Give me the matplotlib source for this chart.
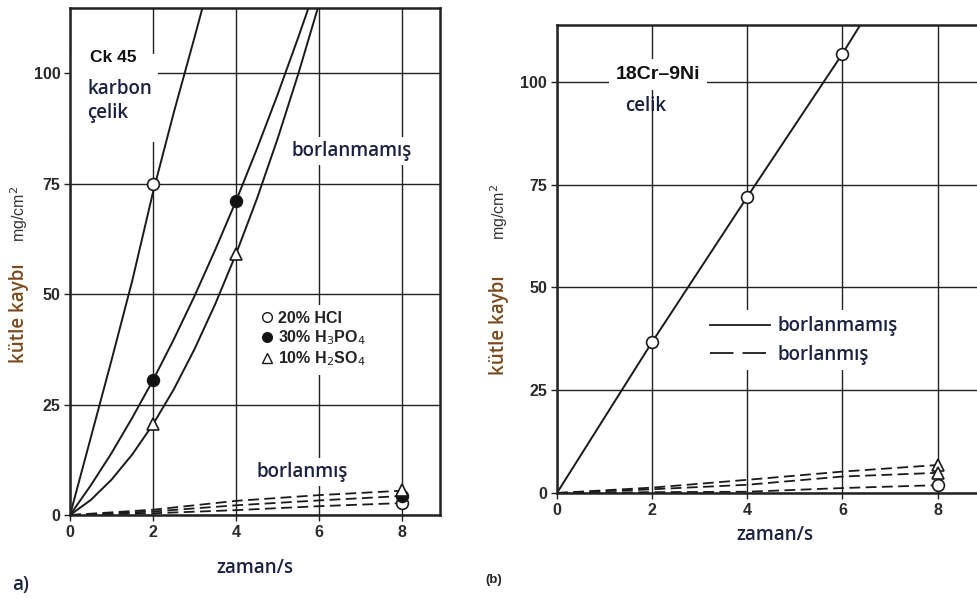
import matplotlib.pyplot as plt
from matplotlib.lines import Line2D
from matplotlib.patches import Rectangle

# ---- data (a) Ck 45 karbon celik ----
t_hcl = [0, 0.5, 1, 1.5, 2, 2.5, 3, 3.2, 3.4]
hcl = [0, 17.5, 35, 53, 73, 91, 108, 115, 122]
t_h3po4 = [0, 0.5, 1, 1.5, 2, 2.5, 3, 3.5, 4, 4.5, 5, 5.5, 5.76, 6.0]
h3po4 = [0, 6.7, 14, 22, 30.5, 39.7, 49.5, 60, 71, 82.7, 95, 108, 115, 122]
t_h2so4 = [0, 0.5, 1, 1.5, 2, 2.5, 3, 3.5, 4, 4.5, 5, 5.5, 6, 6.2]
h2so4 = [0, 3.4, 8, 13.7, 20.5, 28.4, 37.5, 47.7, 59, 71.4, 85, 99.7, 115.5, 122]

pts_hcl_t, pts_hcl = [2, 8], [75, 2.7]
pts_h3po4_t, pts_h3po4 = [2, 4, 8], [30.5, 71, 4.3]
pts_h2so4_t, pts_h2so4 = [2, 4, 8], [20.5, 59, 5.6]

t_b = [0, 2, 4, 6, 8]
bor_a = [[0, 1.2, 3.2, 4.5, 5.5],
         [0, 0.8, 2.2, 3.3, 4.3],
         [0, 0.4, 1.1, 2.0, 2.7]]

# ---- data (b) 18Cr-9Ni celik ----
t_ni = [0, 2, 4, 6, 6.6]
ni = [0, 36.7, 72, 106.8, 118]
pts_ni_t, pts_ni = [2, 4, 6], [36.7, 72, 106.8]
bor_b = [[0, 1.3, 3.2, 5.2, 6.8],
         [0, 0.9, 2.0, 4.0, 4.9],
         [0, 0.2, 0.3, 1.2, 1.9]]
bor_b_marks = ['^', '^', 'o']

xticks = [0, 2, 4, 6, 8]
yticks = [0, 25, 50, 75, 100]

NAVY = '#1b2140'
LABC = '#7a4a1e'
TXT = 'Open Sans'
NUM = 'Liberation Sans'

fig = plt.figure(figsize=(9.78, 5.99), dpi=100)
ax1 = fig.add_axes([0.0716, 0.1402, 0.3783, 0.8464])
ax2 = fig.add_axes([0.5695, 0.177, 0.4378, 0.7813])


def style(ax, xmax, ymax):
    ax.set_xlim(0, xmax)
    ax.set_ylim(0, ymax)
    ax.set_xticks(xticks)
    ax.set_yticks(yticks)
    ax.set_xticklabels([str(v) for v in xticks], family=NUM, fontsize=11.5,
                       color='#2a2a2a', fontweight='bold')
    ax.set_yticklabels([str(v) for v in yticks], family=NUM, fontsize=11.5,
                       color='#2a2a2a', fontweight='bold')
    ax.tick_params(length=4, width=1, pad=3, color='#222222')
    ax.grid(True, color='#222222', lw=1.0)
    ax.set_axisbelow(True)
    for s in ax.spines.values():
        s.set_linewidth(1.8)
        s.set_color('#222222')


style(ax1, 8.92, 114.7)
style(ax2, 9.0, 113.8)

lk = dict(color='#1a1a1a', lw=1.4, zorder=2)
mk = dict(ls='none', ms=8.5, mew=1.2, mec='#1a1a1a', zorder=4)

# (a)
ax1.plot(t_hcl, hcl, **lk)
ax1.plot(t_h3po4, h3po4, **lk)
ax1.plot(t_h2so4, h2so4, **lk)
for row in bor_a:
    ax1.plot(t_b, row, color='#1a1a1a', lw=1.3, ls=(0, (6, 3)), zorder=2)
ax1.plot(pts_hcl_t, pts_hcl, marker='o', mfc='white', **mk)
ax1.plot(pts_h3po4_t, pts_h3po4, marker='o', mfc='#111111', **mk)
ax1.plot(pts_h2so4_t, pts_h2so4, marker='^', mfc='white', **mk)

# white area behind the sample label (hides the grid, as in the original)
ax1.add_patch(Rectangle((0.03, 84.5), 2.08, 19.8, facecolor='white',
                        edgecolor='none', zorder=1.5))
wb = dict(facecolor='white', edgecolor='none', pad=3)
ax1.text(0.48, 105.2, 'Ck 45', family=NUM, fontweight='bold', fontsize=12.5,
         va='top', ha='left', color='#111111', zorder=5)
ax1.text(0.42, 98.6, 'karbon\nçelik', family=TXT, fontsize=13.5, fontweight='semibold',
         va='top', ha='left', color=NAVY, linespacing=1.25, zorder=5)
ax1.text(5.33, 82.4, 'borlanmamış', family=TXT, fontsize=13.5, fontweight='semibold',
         va='center', ha='left', color=NAVY, bbox=wb, zorder=5)
ax1.text(4.5, 9.7, 'borlanmış', family=TXT, fontsize=13.5, fontweight='semibold',
         va='center', ha='left', color=NAVY, bbox=wb, zorder=5)

h_a = [Line2D([], [], marker='o', mfc='white', mec='#1a1a1a', ls='none', ms=7),
       Line2D([], [], marker='o', mfc='#111111', mec='#1a1a1a', ls='none', ms=7),
       Line2D([], [], marker='^', mfc='white', mec='#1a1a1a', ls='none', ms=7)]
leg = ax1.legend(h_a, ['20% HCl', '30% H$_3$PO$_4$', '10% H$_2$SO$_4$'],
                 loc='upper left', bbox_to_anchor=(0.50, 0.415), frameon=True,
                 prop={'family': NUM, 'size': 11.5, 'weight': 'bold'}, handlelength=0.7,
                 handletextpad=0.35, labelspacing=0.15, borderpad=0.4,
                 borderaxespad=0)
leg.get_frame().set_edgecolor('none')
leg.get_frame().set_facecolor('white')
leg.get_frame().set_alpha(1)
for tx in leg.get_texts():
    tx.set_color('#222222')

# (b)
ax2.plot(t_ni, ni, **lk)
ax2.plot(pts_ni_t, pts_ni, marker='o', mfc='white', **mk)
for row, m in zip(bor_b, bor_b_marks):
    ax2.plot(t_b, row, color='#1a1a1a', lw=1.3, ls=(0, (6, 3)), zorder=2)
    ax2.plot(t_b[-1:], row[-1:], marker=m, mfc='white', **mk)

ax2.text(1.24, 101.7, '18Cr–9Ni', family=NUM, fontweight='bold', fontsize=14,
         va='center', ha='left', color='#111111',
         bbox=dict(facecolor='white', edgecolor='none', pad=5), zorder=5)
ax2.text(1.43, 94, 'celik', family=TXT, fontsize=13.5, fontweight='semibold',
         va='center', ha='left', color=NAVY, zorder=5)

h_b = [Line2D([], [], color='#1a1a1a', lw=1.3),
       Line2D([], [], color='#1a1a1a', lw=1.3, ls=(0, (13, 5)))]
leg2 = ax2.legend(h_b, ['borlanmamış', 'borlanmış'], loc='upper left',
                  bbox_to_anchor=(0.345, 0.39), frameon=True,
                  prop={'family': TXT, 'size': 13.5, 'weight': 'semibold'},
                  handlelength=3.2, handletextpad=0.4, labelspacing=0.45,
                  borderpad=0.3, borderaxespad=0)
leg2.get_frame().set_edgecolor('none')
leg2.get_frame().set_facecolor('white')
leg2.get_frame().set_alpha(1)
for tx in leg2.get_texts():
    tx.set_color(NAVY)

# axis labels
for xc, yk, ym in [(19, 313, 214), (499, 325, 212)]:
    fig.text(xc / 978, 1 - yk / 599, 'kütle kaybı', rotation=90, family=TXT,
             fontsize=13.5, fontweight='semibold', color=LABC, ha='center', va='center')
    fig.text(xc / 978, 1 - ym / 599, 'mg/cm$^2$', rotation=90, family=NUM,
             fontsize=11.5, color='#333333', ha='center', va='center')

fig.text(255 / 978, 1 - 568 / 599, 'zaman/s', family=TXT, fontsize=13.5,
         fontweight='semibold', color=NAVY, ha='center', va='center')
fig.text(775 / 978, 1 - 535 / 599, 'zaman/s', family=TXT, fontsize=13.5,
         fontweight='semibold', color=NAVY, ha='center', va='center')
fig.text(12 / 978, 1 - 585 / 599, 'a)', family=TXT, fontsize=13.5,
         fontweight='semibold', color=NAVY, ha='left', va='center')
fig.text(485 / 978, 1 - 580 / 599, '(b)', family=NUM, fontsize=9.5,
         fontweight='bold', color='#222222', ha='left', va='center')

fig.savefig('out.png', dpi=100)
